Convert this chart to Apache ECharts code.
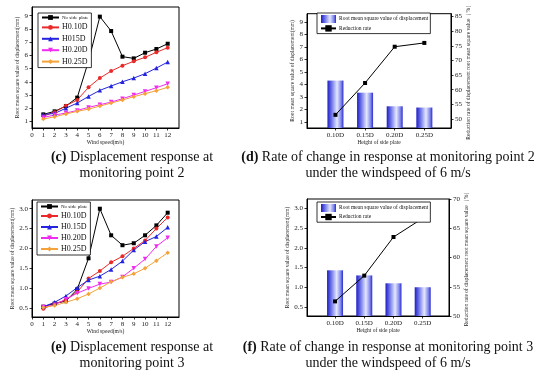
<!DOCTYPE html>
<html><head><meta charset="utf-8">
<script src="https://cdn.jsdelivr.net/npm/echarts@6/dist/echarts.min.js"></script>
<style>html,body{margin:0;padding:0;background:#fff}#c{width:550px;height:385px}</style>
</head><body><div id="c"></div>
<script>
// ---- data ----
const windSpeed = [1,2,3,4,5,6,7,8,9,10,11,12];
const windTicks = [0,1,2,3,4,5,6,7,8,9,10,11,12];
const p2NoPlate = [1.53,1.76,2.16,2.80,5.57,8.93,7.84,5.90,5.77,6.20,6.48,6.88];
const p2H010 = [1.40,1.70,2.19,2.62,3.58,4.28,4.81,5.22,5.55,5.85,6.23,6.58];
const p2H015 = [1.53,1.60,2.00,2.39,2.89,3.35,3.68,4.00,4.28,4.61,5.04,5.49];
const p2H020 = [1.30,1.48,1.63,1.83,2.06,2.26,2.46,2.72,2.99,3.27,3.55,3.85];
const p2H025 = [1.18,1.35,1.56,1.76,1.93,2.16,2.39,2.62,2.87,3.10,3.32,3.58];
const p3NoPlate = [0.53,0.61,0.67,0.97,1.75,3.00,2.33,2.08,2.13,2.33,2.58,2.90];
const p3H010 = [0.48,0.60,0.70,0.90,1.24,1.43,1.65,1.80,2.00,2.20,2.50,2.78];
const p3H015 = [0.53,0.64,0.80,1.01,1.20,1.30,1.47,1.68,1.96,2.17,2.30,2.53];
const p3H020 = [0.52,0.58,0.72,0.87,0.99,1.10,1.15,1.28,1.50,1.73,2.05,2.27];
const p3H025 = [0.51,0.56,0.64,0.73,0.85,1.00,1.16,1.27,1.36,1.50,1.69,1.89];
const plateHeights = [0.10,0.15,0.20,0.25];
const p2Rms = [4.30,3.33,2.24,2.14];
const p2Rate = [51.4,62.3,74.7,76.0];
const p3Rms = [1.43,1.30,1.10,1.00];
const p3Rate = [52.5,56.9,63.5,66.7];
const p2Ticks = [1,2,3,4,5,6,7,8,9];
const p2RateTicks = [50,55,60,65,70,75,80,85];
const p3Ticks = [0.5,1.0,1.5,2.0,2.5,3.0];
const p3RateTicks = [50,55,60,65,70];
const seriesNamesP2 = ['No side plate','H0.10D','H015D','H0.20D','H0.25D'];
const seriesNamesP3 = ['No side plate','H0.10D','H0.15D','H0.20D','H0.25D'];
const barName = 'Root mean square value of displacement';
const rateName = 'Reduction rate';

// ---- styles ----
const FONT = 'Liberation Serif';
const colors = ['#000000','#ea2a2a','#2323e0','#f02cf0','#f5a23a'];
const symbols = ['rect','circle','triangle','path://M0,0 L10,0 L5,9 Z','diamond'];

function axisBase(extra){
  return Object.assign({
    axisLine:{show:true,onZero:false,lineStyle:{color:'#000',width:1}},
    axisTick:{show:true,inside:false,length:2.5,lineStyle:{color:'#000',width:0.8}},
    axisLabel:{fontFamily:FONT,fontSize:7,color:'#222',margin:4},
    splitLine:{show:false},
    nameTextStyle:{fontFamily:FONT,fontSize:5.5,color:'#222'},
    nameLocation:'middle'
  }, extra);
}
function customLabel(vals, fmt, margin){
  return {customValues:vals, fontFamily:FONT, fontSize:7, color:'#222', margin:margin||4, formatter:fmt};
}
function customTick(vals){
  return {show:true, customValues:vals, inside:false, length:2.5, lineStyle:{color:'#000',width:0.8}};
}

const grids = [
  {left:32, top:7, width:147, height:121},
  {left:307, top:7, width:144, height:121},
  {left:32, top:200, width:147, height:117},
  {left:307, top:199, width:142, height:117}
].map(g=>Object.assign({show:true,borderColor:'#000',borderWidth:1,backgroundColor:'transparent'},g));

const xAxes = [
  axisBase({type:'value',gridIndex:0,min:0,max:13,name:'Wind speed(m/s)',nameGap:11,
    axisLabel:customLabel(windTicks,v=>String(v),3.5),axisTick:customTick(windTicks)}),
  axisBase({type:'value',gridIndex:1,min:0.052,max:0.295,name:'Height of side plate',nameGap:12,
    axisLabel:customLabel(plateHeights,v=>v.toFixed(2)+'D',3.5),axisTick:customTick(plateHeights)}),
  axisBase({type:'value',gridIndex:2,min:0,max:13,name:'Wind speed(m/s)',nameGap:11,
    axisLabel:customLabel(windTicks,v=>String(v),3.5),axisTick:customTick(windTicks)}),
  axisBase({type:'value',gridIndex:3,min:0.052,max:0.295,name:'Height of side plate',nameGap:12,
    axisLabel:customLabel(plateHeights,v=>v.toFixed(2)+'D',3.5),axisTick:customTick(plateHeights)})
];
const yLeftName = 'Root mean square value of displacement(mm)';
const yRightName = 'Reduction rate of displacement root mean square value（%）';
const yAxes = [
  axisBase({type:'value',gridIndex:0,min:0.5,max:9.66,name:yLeftName,nameGap:9,nameRotate:90,
    axisLabel:customLabel(p2Ticks,v=>String(v)),axisTick:customTick(p2Ticks)}),
  axisBase({type:'value',gridIndex:1,min:0.5,max:9.66,name:yLeftName,nameGap:9,nameRotate:90,
    axisLabel:customLabel(p2Ticks,v=>String(v)),axisTick:customTick(p2Ticks)}),
  axisBase({type:'value',gridIndex:1,position:'right',min:46.9,max:86,name:yRightName,nameGap:12,nameRotate:90,
    axisLabel:customLabel(p2RateTicks,v=>String(v)),axisTick:customTick(p2RateTicks)}),
  axisBase({type:'value',gridIndex:2,min:0.27,max:3.22,name:yLeftName,nameGap:12,nameRotate:90,
    axisLabel:customLabel(p3Ticks,v=>v.toFixed(1)),axisTick:customTick(p3Ticks)}),
  axisBase({type:'value',gridIndex:3,min:0.27,max:3.24,name:yLeftName,nameGap:12,nameRotate:90,
    axisLabel:customLabel(p3Ticks,v=>v.toFixed(1)),axisTick:customTick(p3Ticks)}),
  axisBase({type:'value',gridIndex:3,position:'right',min:50,max:70,name:yRightName,nameGap:12,nameRotate:90,
    axisLabel:customLabel(p3RateTicks,v=>String(v)),axisTick:customTick(p3RateTicks)})
];

function lineSeries(name, vals, idx, xi, yi){
  return {type:'line', name, xAxisIndex:xi, yAxisIndex:yi,
    data: windSpeed.map((w,i)=>[w, vals[i]]),
    symbol:symbols[idx], symbolSize: idx<2?4:4.5, showSymbol:true,
    lineStyle:{color:colors[idx],width:1}, itemStyle:{color:colors[idx]},
    animation:false, z:3};
}
const barGrad = {type:'linear',x:0,y:0,x2:1,y2:0,colorStops:[
  {offset:0,color:'#1c1cc4'},{offset:0.25,color:'#6a70e6'},{offset:0.6,color:'#e4e8ff'},{offset:0.85,color:'#8088ec'},{offset:1,color:'#2a2ac8'}]};

const p2Sets = [p2NoPlate,p2H010,p2H015,p2H020,p2H025];
const p3Sets = [p3NoPlate,p3H010,p3H015,p3H020,p3H025];
const series = [];
p2Sets.forEach((s,i)=>series.push(lineSeries(seriesNamesP2[i], s, i, 0, 0)));
p3Sets.forEach((s,i)=>series.push(lineSeries(seriesNamesP3[i], s, i, 2, 3)));
[[1,1,2,p2Rms,p2Rate],[3,4,5,p3Rms,p3Rate]].forEach(([xi,yl,yr,rms,rate])=>{
  series.push({type:'bar',name:barName,xAxisIndex:xi,yAxisIndex:yl,barWidth:16,
    data:plateHeights.map((h,i)=>[h,rms[i]]),itemStyle:{color:barGrad},animation:false,z:2});
  series.push({type:'line',name:rateName,xAxisIndex:xi,yAxisIndex:yr,
    data:plateHeights.map((h,i)=>[h,rate[i]]),symbol:'rect',symbolSize:4,
    lineStyle:{color:'#000',width:1},itemStyle:{color:'#000'},animation:false,z:3});
});

function lineLegend(names, left, top, gap){
  return {orient:'vertical', left, top, itemWidth:17, itemHeight:6, itemGap:gap,
    padding:[2,3,2,3], backgroundColor:'#fff', borderColor:'#000', borderWidth:0.8, borderRadius:0,
    data: names.map((n,i)=>({name:n, textStyle:{fontFamily:FONT, fontSize:i===0?5:8, color:'#111'}})),
    textStyle:{fontFamily:FONT,fontSize:8,color:'#111',padding:[0,0,0,-2]}, selectedMode:false, z:10};
}
function barLegend(left, top, gap){
  return {orient:'vertical', left, top, itemWidth:15, itemHeight:8, itemGap:gap,
    padding:[2,2,2,3], backgroundColor:'#fff', borderColor:'#000', borderWidth:0.8, borderRadius:0,
    data:[{name:barName, icon:'rect'},{name:rateName}],
    textStyle:{fontFamily:FONT,fontSize:5.5,color:'#111',padding:[0,0,0,-2]}, selectedMode:false, z:10};
}
const legends = [
  lineLegend(seriesNamesP2, 38, 13, 3.4),
  barLegend(317, 13, 2.2),
  lineLegend(seriesNamesP3, 37, 202, 3.0),
  barLegend(317, 202, 1.8)
];

function caption(x, y, tag, rest){
  return {type:'text', x, y, style:{
    text:'{b|'+tag+'} '+rest, fontFamily:FONT, fontSize:14, fill:'#111',
    textAlign:'center', textVerticalAlign:'middle',
    rich:{b:{fontWeight:'bold',fontFamily:FONT,fontSize:14,fill:'#111'}}}, silent:true};
}
function plain(x, y, t){
  return {type:'text', x, y, style:{text:t, fontFamily:FONT, fontSize:14, fill:'#111',
    textAlign:'center', textVerticalAlign:'middle'}, silent:true};
}
const graphics = [
  caption(132,157,'(c)','Displacement response at'), plain(132,173.5,'monitoring point 2'),
  caption(388,157,'(d)','Rate of change in response at monitoring point 2'), plain(388,173.5,'under the windspeed of 6 m/s'),
  caption(132,347,'(e)','Displacement response at'), plain(132,363.5,'monitoring point 3'),
  caption(388,347,'(f)','Rate of change in response at monitoring point 3'), plain(388,363.5,'under the windspeed of 6 m/s')
];

const chart = echarts.init(document.getElementById('c'), null, {renderer:'canvas'});
chart.setOption({animation:false, backgroundColor:'#fff', grid:grids, xAxis:xAxes, yAxis:yAxes,
  series, legend:legends, graphic:graphics});
</script></body></html>
